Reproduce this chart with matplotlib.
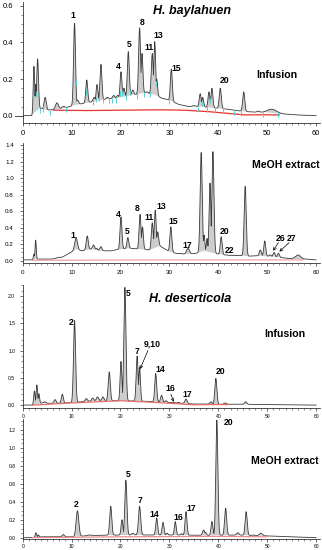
import numpy as np
import matplotlib
matplotlib.use('Agg')
import matplotlib.pyplot as plt
from matplotlib.ticker import MultipleLocator, AutoMinorLocator

plt.rcParams['font.family'] = ['Liberation Sans', 'DejaVu Sans']

# ---------------- H. baylahuen, infusion ----------------
bi_peak_t = [2.3, 2.65, 3.05, 4.6, 7.0, 8.3, 10.6, 11.2, 13.1, 14.6, 15.2, 16.0, 17.3, 18.6, 19.4,
             20.1, 20.7, 21.6, 22.5, 23.9, 24.4, 25.4, 26.5, 27.0, 27.4, 29.3, 30.4, 32.2, 35.0,
             36.3, 36.8, 38.1, 38.7, 40.4, 45.2, 48.2, 51.0]
bi_peak_h = [0.27, 0.17, 0.31, 0.10, 0.07, 0.05, 0.505, 0.085, 0.195, 0.10, 0.17, 0.28, 0.10, 0.11, 0.11,
             0.24, 0.15, 0.35, 0.14, 0.48, 0.34, 0.13, 0.34, 0.405, 0.20, 0.09, 0.255, 0.06, 0.055,
             0.12, 0.10, 0.13, 0.15, 0.15, 0.13, 0.025, 0.035]
bi_peak_w = [0.1, 0.08, 0.12, 0.15, 0.2, 0.2, 0.13, 0.15, 0.13, 0.15, 0.12, 0.13, 0.15, 0.15, 0.15,
             0.12, 0.12, 0.13, 0.15, 0.13, 0.12, 0.15, 0.13, 0.12, 0.12, 0.25, 0.13, 0.2, 0.2,
             0.13, 0.13, 0.13, 0.13, 0.14, 0.14, 0.2, 0.6]
bi_base_t = [0, 1.9, 2.1, 3.5, 5, 7, 9, 11, 13, 15, 17, 19, 21, 23, 25, 27, 28.5, 30, 32, 34, 36,
             38, 40, 42, 44, 46, 48, 50, 53, 56, 60]
bi_base_v = [0, 0, 0.01, 0.04, 0.03, 0.035, 0.045, 0.06, 0.07, 0.08, 0.09, 0.095, 0.105, 0.115, 0.125,
             0.115, 0.095, 0.085, 0.06, 0.05, 0.05, 0.045, 0.04, 0.035, 0.027, 0.022, 0.018, 0.018,
             0.01, 0.004, 0.0]
bi_red_t = [6.3, 13, 20, 28, 33, 38, 43, 45.5, 49, 52.5]
bi_red_v = [0.03, 0.028, 0.03, 0.032, 0.03, 0.022, 0.01, 0.004, 0.005, 0.004]
bi_cyan = [2.1, 2.8, 3.6, 4.2, 5.5, 8.8, 10.9, 12.9, 14.3, 14.9, 15.6, 16.5, 17.6, 18.2, 19.0,
           19.8, 20.4, 21.1, 22.0, 23.3, 24.9, 26.0, 27.3, 29.9, 35.8, 36.6, 37.6, 38.3, 39.3,
           40.9, 43.3, 44.6, 49.2, 52.2]
bi_labels = ['1', '4', '5', '8', '11', '13', '15', '20']

# ---------------- H. baylahuen, MeOH extract ----------------
bm_peak_t = [2.3, 2.65, 7.3, 10.9, 13.2, 14.5, 15.1, 16.0, 17.2, 18.6, 20.1, 20.7, 21.5, 22.6, 24.0,
             24.5, 26.5, 27.1, 27.6, 30.3, 32.2, 33.8, 36.5, 37.1, 37.7, 38.3, 38.9, 40.6, 41.7,
             43.1, 45.5, 48.6, 49.5, 50.6, 51.4, 52.3, 56.3]
bm_peak_h = [0.08, 0.25, 0.04, 0.28, 0.30, 0.19, 0.15, 0.17, 0.12, 0.12, 0.53, 0.13, 0.28, 0.14, 0.56,
             0.41, 0.46, 0.61, 0.35, 0.41, 0.09, 0.15, 1.31, 0.31, 0.27, 0.94, 1.32, 0.29, 0.07,
             0.06, 0.90, 0.13, 0.24, 0.07, 0.10, 0.09, 0.07]
bm_peak_w = [0.08, 0.08, 0.3, 0.18, 0.14, 0.15, 0.12, 0.14, 0.15, 0.15, 0.13, 0.1, 0.13, 0.15, 0.13,
             0.12, 0.13, 0.13, 0.13, 0.13, 0.2, 0.2, 0.14, 0.1, 0.1, 0.12, 0.14, 0.13, 0.15,
             0.2, 0.14, 0.14, 0.13, 0.13, 0.13, 0.13, 0.35]
bm_base_t = [0, 2.0, 2.5, 3.5, 6, 8, 9.5, 11, 12, 14, 16, 18, 20, 22, 24, 26, 28, 30, 32, 34, 35.5,
             37, 40, 42, 44, 46, 48, 50, 52, 54, 56, 58, 60]
bm_base_v = [0.01, 0.01, 0.02, 0.02, 0.02, 0.04, 0.09, 0.14, 0.12, 0.14, 0.12, 0.12, 0.14, 0.15, 0.14,
             0.13, 0.18, 0.11, 0.08, 0.08, 0.09, 0.12, 0.08, 0.065, 0.065, 0.055, 0.06, 0.055, 0.045,
             0.03, 0.02, 0.02, 0.01]
bm_red_t = [2, 30, 55, 57.5]
bm_red_v = [0.005, 0.01, 0.01, 0.01]
bm_labels = ['1', '4', '5', '8', '11', '13', '15', '17', '20', '22', '26', '27']

# ---------------- H. deserticola, infusion ----------------
di_peak_t = [2.4, 2.9, 3.3, 4.5, 6.6, 8.1, 10.6, 13.0, 14.3, 15.3, 16.4, 17.7, 20.1, 20.9, 23.4,
             23.9, 27.2, 28.4, 29.3, 30.8, 31.9, 33.4, 38.5, 39.5, 41.4, 45.6]
di_peak_h = [0.26, 0.37, 0.21, 0.06, 0.10, 0.20, 1.55, 0.12, 0.13, 0.15, 0.15, 0.61, 0.80, 2.16, 0.90,
             0.70, 0.58, 0.18, 0.08, 0.05, 0.05, 0.11, 0.06, 0.49, 0.04, 0.06]
di_peak_w = [0.1, 0.1, 0.1, 0.15, 0.15, 0.13, 0.14, 0.15, 0.15, 0.15, 0.15, 0.14, 0.12, 0.14, 0.13,
             0.12, 0.13, 0.13, 0.13, 0.15, 0.15, 0.15, 0.15, 0.14, 0.15, 0.15]
di_base_t = [0, 2, 4, 6, 9, 12, 15, 19, 22, 25, 28, 31, 35, 40, 45, 50, 60]
di_base_v = [0, 0.0, 0.04, 0.03, 0.04, 0.06, 0.08, 0.08, 0.075, 0.07, 0.06, 0.04, 0.02, 0.015, 0.015,
             0.01, 0.0]
di_red_t = [2, 10, 20, 27, 35, 38, 42]
di_red_v = [0.0, 0.04, 0.08, 0.05, 0.005, 0.01, 0.01]
di_labels = ['2', '5', '7', '9,10', '14', '16', '17', '20']

# ---------------- H. deserticola, MeOH extract ----------------
dm_peak_t = [2.7, 3.2, 8.3, 11.2, 13.6, 18.0, 20.3, 21.1, 22.5, 23.9, 27.4, 28.7, 29.5, 31.2, 32.5,
             33.4, 37.0, 37.4, 38.7, 39.7, 41.5, 44.0, 45.7, 47.2, 48.7]
dm_peak_h = [0.055, 0.03, 0.035, 0.30, 0.03, 0.35, 0.20, 0.64, 0.05, 0.35, 0.22, 0.17, 0.05, 0.18, 0.045,
             0.29, 0.085, 0.06, 0.18, 1.31, 0.33, 0.055, 0.29, 0.03, 0.05]
dm_peak_w = [0.1, 0.1, 0.15, 0.18, 0.2, 0.14, 0.12, 0.14, 0.15, 0.15, 0.13, 0.13, 0.12, 0.12, 0.12,
             0.13, 0.15, 0.12, 0.13, 0.14, 0.14, 0.15, 0.14, 0.15, 0.2]
dm_base_t = [0, 2, 4, 10, 14, 20, 26, 32, 38, 44, 50, 55, 60]
dm_base_v = [0, 0.0, 0.01, 0.01, 0.025, 0.03, 0.03, 0.03, 0.025, 0.03, 0.02, 0.01, 0.0]
dm_red_t = [2, 20, 40, 50]
dm_red_v = [0.0, 0.01, 0.015, 0.01]
dm_labels = ['2', '5', '7', '14', '16', '17', '20']

time = np.linspace(0, 60, 4001)
SHAPE = 1.5  # peaks in the picture are a bit broader than the widths read at half height


def trace(t, pk_t, pk_h, pk_w, base_t, base_v):
    # chromatogram = baseline + tallest peak at each time
    base = np.interp(t, base_t, base_v)
    bump = np.zeros_like(t)
    for c, h, w in zip(pk_t, pk_h, pk_w):
        amp = h - np.interp(c, base_t, base_v)
        bump = np.maximum(bump, amp * np.exp(-0.5 * ((t - c) / (w * SHAPE)) ** 2))
    return base, base + bump


def setup(ax, ylim, ymaj, ymin, fs, pad):
    ax.set_xlim(0, 60.8)
    ax.set_ylim(*ylim)
    for s in ['top', 'right']:
        ax.spines[s].set_visible(False)
    for s in ['left', 'bottom']:
        ax.spines[s].set_color('#333333')
        ax.spines[s].set_linewidth(0.6)
    ax.xaxis.set_major_locator(MultipleLocator(10))
    ax.xaxis.set_minor_locator(AutoMinorLocator(8))
    ax.yaxis.set_major_locator(MultipleLocator(ymaj))
    ax.yaxis.set_minor_locator(MultipleLocator(ymin))
    ax.yaxis.set_major_formatter(matplotlib.ticker.FormatStrFormatter('%.1f'))
    ax.tick_params(which='major', length=2.4, width=0.5, color='#333333', labelsize=fs, pad=pad)
    ax.tick_params(axis='y', pad=pad + 1.5)
    ax.tick_params(which='minor', length=1.3, width=0.4, color='#333333')
    ax.patch.set_alpha(0)


def draw(ax, pk_t, pk_h, pk_w, base_t, base_v, red_t, red_v, red_col):
    base, y = trace(time, pk_t, pk_h, pk_w, base_t, base_v)
    ax.fill_between(time, base, y, where=y > base + 0.003, color='#cdcdcd', lw=0)
    ax.plot(time, y, color='#3a3a3a', lw=0.6)
    ax.plot(red_t, red_v, color=red_col, lw=0.9)
    return y


lab = dict(fontsize=6.2, fontweight='bold', ha='center', va='center')
big = dict(fontsize=7.6, fontweight='bold', ha='center', va='center')
ttl = dict(fontsize=9, fontweight='bold', style='italic', ha='center', va='center')
arrow = dict(arrowstyle='->', lw=0.5, color='black', shrinkA=0, shrinkB=0, mutation_scale=5)

fig = plt.figure(figsize=(3.22, 5.5), dpi=100)
L, W = 0.0705, 0.9233

# Panel 1
ax1 = fig.add_axes([L, 0.7764, W, 0.2195])
setup(ax1, (-0.04, 0.62), 0.2, 0.05, 5.5, 3)
y1 = draw(ax1, bi_peak_t, bi_peak_h, bi_peak_w, bi_base_t, bi_base_v, bi_red_t, bi_red_v, '#e8332e')
ax1.plot([-1.6, 0], [0, 0], color='#3a3a3a', lw=0.6, clip_on=False)
cy = np.interp(bi_cyan, time, y1)
ax1.vlines(bi_cyan, cy - 0.028, cy + 0.002, color='#58cfd8', lw=0.7)
pos1 = [(10.2, 0.55), (19.6, 0.27), (21.8, 0.39), (24.4, 0.51), (25.9, 0.37), (27.8, 0.44),
        (31.4, 0.26), (41.3, 0.19)]
for s, (x, v) in zip(bi_labels, pos1):
    ax1.text(x, v, s, **lab)
ax1.text(34.6, 0.57, 'H. baylahuen', **ttl)
ax1.text(52, 0.22, 'Infusion', **big)

# Panel 2
ax2 = fig.add_axes([L, 0.5222, W, 0.2171])
setup(ax2, (-0.025, 1.42), 0.2, 0.05, 4.5, 2.5)
draw(ax2, bm_peak_t, bm_peak_h, bm_peak_w, bm_base_t, bm_base_v, bm_red_t, bm_red_v, '#f3a0a0')
pos2 = [(10.2, 0.31), (19.6, 0.555), (21.4, 0.35), (23.5, 0.63), (25.9, 0.52), (28.3, 0.66),
        (30.7, 0.48), (33.6, 0.19), (41.3, 0.35), (42.3, 0.12), (52.8, 0.27), (54.9, 0.27)]
for s, (x, v) in zip(bm_labels, pos2):
    ax2.text(x, v, s, **lab)
ax2.annotate('', xy=(51.2, 0.12), xytext=(52.3, 0.22), arrowprops=arrow)
ax2.annotate('', xy=(52.5, 0.11), xytext=(54.5, 0.22), arrowprops=arrow)
ax2.text(53.8, 1.16, 'MeOH extract', **big)

# Panel 3
ax3 = fig.add_axes([L, 0.258, W, 0.2235])
setup(ax3, (-0.055, 2.2), 0.5, 0.1, 3.6, 1.5)
draw(ax3, di_peak_t, di_peak_h, di_peak_w, di_base_t, di_base_v, di_red_t, di_red_v, '#ea6a6a')
pos3 = [(10.0, 1.51), (21.6, 2.04), (23.3, 0.98), (26.4, 1.12), (28.1, 0.65), (30.2, 0.31),
        (33.7, 0.20), (40.4, 0.61)]
for s, (x, v) in zip(di_labels, pos3):
    ax3.text(x, v, s, **lab)
ax3.annotate('', xy=(24.0, 0.66), xytext=(25.6, 1.0), arrowprops=arrow)
ax3.annotate('', xy=(30.9, 0.06), xytext=(30.3, 0.2), arrowprops=arrow)
ax3.text(34.2, 1.94, 'H. deserticola', **ttl)
ax3.text(53.7, 1.31, 'Infusion', **big)

# Panel 4
ax4 = fig.add_axes([L, 0.0191, W, 0.2187])
setup(ax4, (-0.02, 1.32), 0.2, 0.05, 3.6, 1.2)
draw(ax4, dm_peak_t, dm_peak_h, dm_peak_w, dm_base_t, dm_base_v, dm_red_t, dm_red_v, '#ee8c8c')
pos4 = [(10.9, 0.37), (21.6, 0.70), (23.9, 0.41), (26.9, 0.26), (31.9, 0.23), (34.4, 0.33),
        (42.1, 1.28)]
for s, (x, v) in zip(dm_labels, pos4):
    ax4.text(x, v, s, **lab)
ax4.text(53.7, 0.86, 'MeOH extract', **big)

plt.savefig('out.png', dpi=100)
